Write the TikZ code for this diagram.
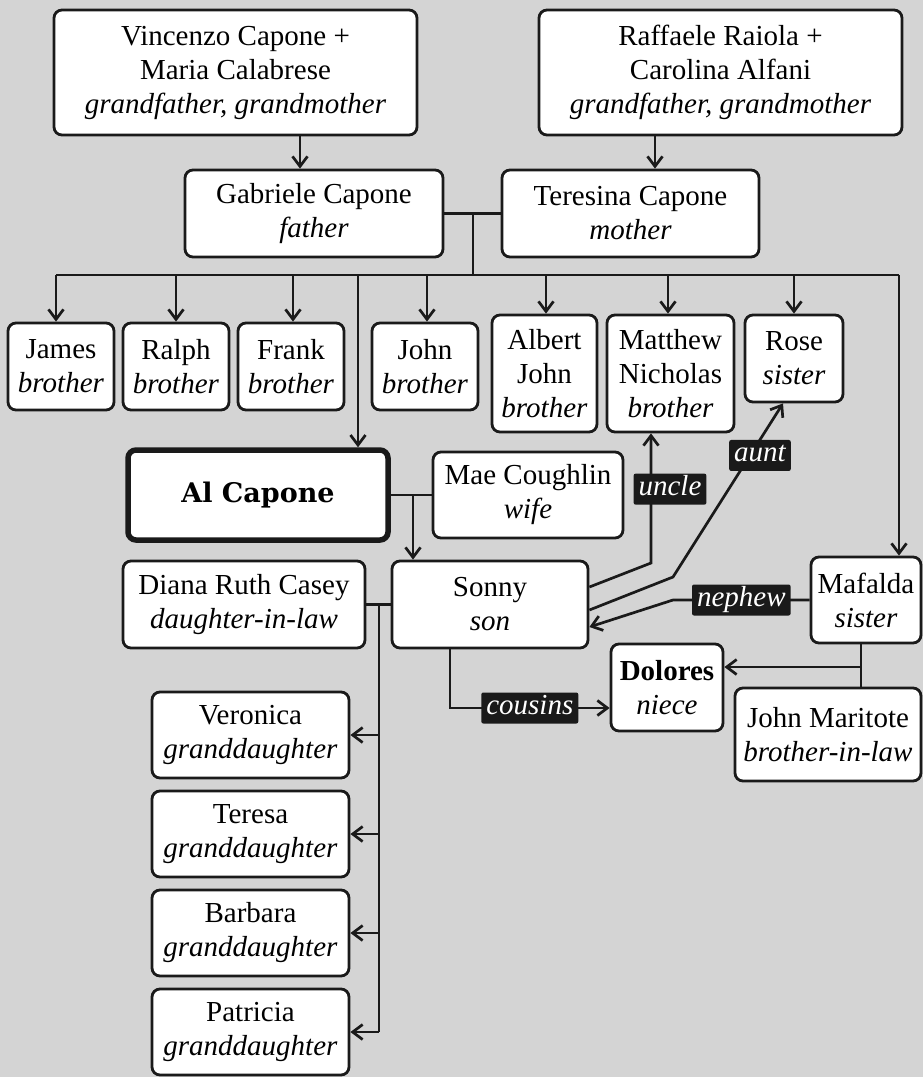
\documentclass[tikz,border=0pt]{standalone}
\usepackage{fontspec}
\setmainfont{Liberation Serif}
\newfontfamily\slabfont{DejaVu Serif}
\usetikzlibrary{arrows.meta}
\definecolor{bg}{HTML}{D4D4D4}
\definecolor{ink}{HTML}{1A1A1A}
\tikzset{
  box/.style={draw=ink, fill=white, line width=2.8pt, rounded corners=8pt, align=center, inner sep=0pt, font=\fontsize{29}{34}\selectfont},
  keybox/.style={box, line width=5.5pt, font=\slabfont\bfseries\fontsize{27}{30}\selectfont},
  link/.style={draw=ink, line width=2.7pt},
  arr/.style={link, -{Straight Barb[length=10pt,width=15pt]}},
  lab/.style={fill=ink, text=white, rounded corners=2pt, font=\fontsize{29}{34}\selectfont\itshape, inner xsep=5pt, inner ysep=2pt, text height=20pt, text depth=7pt}
}
\begin{document}
\begin{tikzpicture}[x=1pt,y=-1pt]
\fill[bg] (0,0) rectangle (923,1077);
\useasboundingbox (0,0) rectangle (923,1077);

% grandparents and parents
\node[box, minimum width=363pt, minimum height=125pt] (gp1) at (235.5,72.5) {Vincenzo Capone +\\Maria Calabrese\\\textit{grandfather, grandmother}};
\node[box, minimum width=363pt, minimum height=125pt] (gp2) at (720.5,72.5) {Raffaele Raiola +\\Carolina Alfani\\\textit{grandfather, grandmother}};
\node[box, minimum width=258pt, minimum height=87pt] (father) at (314,213.5) {Gabriele Capone\\\textit{father}};
\node[box, minimum width=257pt, minimum height=87pt] (mother) at (630.5,213.5) {Teresina Capone\\\textit{mother}};

% siblings
\node[box, minimum width=106pt, minimum height=87pt] (james) at (61,366.5) {James\\\textit{brother}};
\node[box, minimum width=106pt, minimum height=87pt] (ralph) at (176,366.5) {Ralph\\\textit{brother}};
\node[box, minimum width=106pt, minimum height=87pt] (frank) at (291,366.5) {Frank\\\textit{brother}};
\node[box, minimum width=106pt, minimum height=87pt] (john) at (425,366.5) {John\\\textit{brother}};
\node[box, minimum width=105pt, minimum height=117pt] (albert) at (544.5,373.5) {Albert\\John\\\textit{brother}};
\node[box, minimum width=127pt, minimum height=117pt] (matthew) at (670.5,373.5) {Matthew\\Nicholas\\\textit{brother}};
\node[box, minimum width=98pt, minimum height=87pt] (rose) at (794,358.5) {Rose\\\textit{sister}};

% Al and family
\node[keybox, minimum width=260pt, minimum height=90pt] (al) at (258,495) {Al Capone};
\node[box, minimum width=190pt, minimum height=86pt] (mae) at (528,495) {Mae Coughlin\\\textit{wife}};
\node[box, minimum width=196pt, minimum height=87pt] (sonny) at (490,604.5) {Sonny\\\textit{son}};
\node[box, minimum width=242pt, minimum height=87pt] (diana) at (244,604.5) {Diana Ruth Casey\\\textit{daughter-in-law}};
\node[box, minimum width=110pt, minimum height=86pt] (mafalda) at (866,600) {Mafalda\\\textit{sister}};
\node[box, minimum width=112pt, minimum height=87pt] (dolores) at (667,687.5) {\textbf{Dolores}\\\textit{niece}};
\node[box, minimum width=186pt, minimum height=93pt] (johnm) at (828,734.5) {John Maritote\\\textit{brother-in-law}};
\node[box, minimum width=197pt, minimum height=86pt] (veronica) at (250.5,735) {Veronica\\\textit{granddaughter}};
\node[box, minimum width=197pt, minimum height=86pt] (teresa) at (250.5,834) {Teresa\\\textit{granddaughter}};
\node[box, minimum width=197pt, minimum height=86pt] (barbara) at (250.5,933) {Barbara\\\textit{granddaughter}};
\node[box, minimum width=197pt, minimum height=86pt] (patricia) at (250.5,1032) {Patricia\\\textit{granddaughter}};

% connectors
\draw[arr] (gp1.south -| 300,0) -- (father.north -| 300,0);
\draw[arr] (gp2.south -| 655,0) -- (mother.north -| 655,0);
\draw[link] (father.east) -- (mother.west);
\coordinate (bus) at (473,275);
\draw[link] (father.east -| bus) -- (bus);
\draw[link] (bus -| 56,0) -- (bus -| 899,0);
\draw[arr] (bus -| 56,0) -- (james.north -| 56,0);
\draw[arr] (bus -| 176,0) -- (ralph.north -| 176,0);
\draw[arr] (bus -| 293,0) -- (frank.north -| 293,0);
\draw[arr] (bus -| 427,0) -- (john.north -| 427,0);
\draw[arr] (bus -| 546,0) -- (albert.north -| 546,0);
\draw[arr] (bus -| 668,0) -- (matthew.north -| 668,0);
\draw[arr] (bus -| 794,0) -- (rose.north -| 794,0);
\draw[arr] (bus -| 358,0) -- (al.north -| 358,0);
\draw[arr] (bus -| 899,0) -- (mafalda.north -| 899,0);

\draw[link] (al.east) -- (mae.west);
\draw[arr] (al.east -| 413,0) -- (sonny.north -| 413,0);
\draw[link] (diana.east) -- (sonny.west);
\draw[link] (diana.east -| 379,0) -- (patricia.east -| 379,0);
\foreach \g in {veronica,teresa,barbara,patricia}
  \draw[arr] (\g.east -| 379,0) -- (\g.east);

\draw[arr] (sonny.south -| 450,0) |- node[lab,pos=0.75]{cousins} (dolores.west |- 0,708);
\draw[link] (mafalda.south -| 861,0) -- (johnm.north -| 861,0);
\coordinate (mj) at (861,667);
\draw[arr] (mj) -- (dolores.east |- mj);

\draw[arr] (sonny.east |- 0,587) -- (651,563) -- node[lab,pos=0.57,xshift=19pt]{uncle} (matthew.south -| 651,0);
\draw[arr] (sonny.east |- 0,610) -- (673,577) -- node[lab,pos=0.7,xshift=10pt]{aunt} (rose.south -| 783,0);
\draw[arr] (mafalda.west) -- node[lab]{nephew} (673,600) -- (sonny.east |- 0,627);
\end{tikzpicture}
\end{document}
